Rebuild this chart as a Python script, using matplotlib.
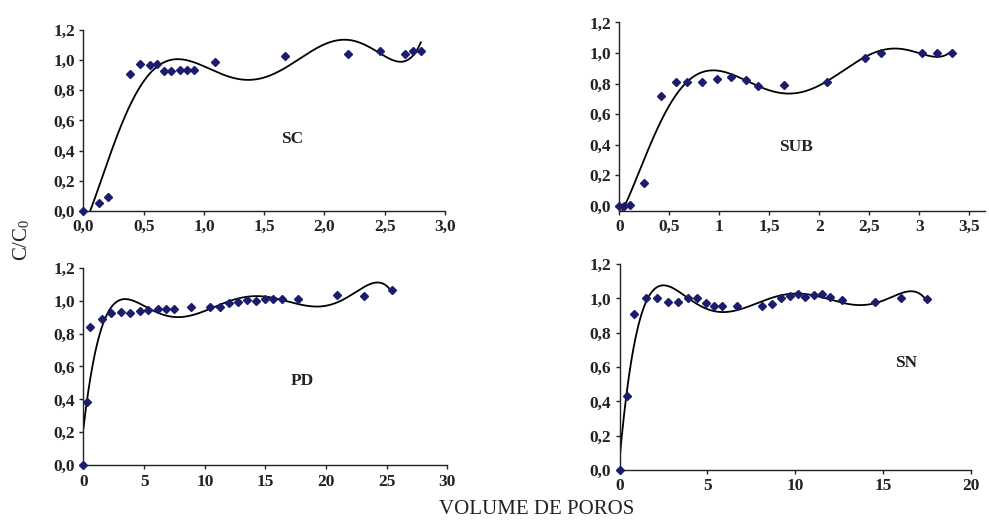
import numpy as np
import matplotlib.pyplot as plt

plt.rcParams['font.family'] = ['Liberation Serif', 'DejaVu Serif']
plt.rcParams['mathtext.fontset'] = 'stix'

# SC
sc_x = [0.0, 0.126, 0.20, 0.383, 0.466, 0.549, 0.612, 0.665, 0.726, 0.80, 0.858, 0.916,
        1.093, 1.673, 2.199, 2.464, 2.672, 2.735, 2.80]
sc_y = [0.0, 0.05, 0.095, 0.909, 0.973, 0.969, 0.973, 0.927, 0.929, 0.938, 0.938, 0.938,
        0.99, 1.028, 1.04, 1.064, 1.04, 1.064, 1.064]

# SUB
sub_x = [0.0, 0.05, 0.107, 0.25, 0.417, 0.564, 0.674, 0.83, 0.974, 1.12, 1.264, 1.384,
         1.65, 2.074, 2.454, 2.614, 3.024, 3.177, 3.324]
sub_y = [0.0, 0.0, 0.007, 0.152, 0.721, 0.808, 0.808, 0.808, 0.832, 0.845, 0.826, 0.784,
         0.791, 0.808, 0.967, 0.998, 0.998, 0.998, 0.998]

# PD
pd_x = [0.0, 0.31, 0.54, 1.50, 2.27, 3.09, 3.83, 4.65, 5.34, 6.11, 6.8, 7.48, 8.86,
        10.42, 11.24, 12.01, 12.7, 13.5, 14.2, 14.95, 15.64, 16.33, 17.7, 20.86, 23.13, 25.47]
pd_y = [0.0, 0.387, 0.841, 0.89, 0.924, 0.93, 0.924, 0.938, 0.944, 0.95, 0.95, 0.95, 0.963,
        0.96, 0.96, 0.985, 0.99, 1.005, 1.0, 1.011, 1.011, 1.011, 1.011, 1.036, 1.026, 1.062]

# SN
sn_x = [0.0, 0.43, 0.84, 1.49, 2.15, 2.78, 3.35, 3.88, 4.43, 4.93, 5.40, 5.86, 6.71,
        8.13, 8.70, 9.2, 9.71, 10.18, 10.56, 11.04, 11.51, 11.95, 12.65, 14.55, 16.03, 17.49]
sn_y = [0.0, 0.433, 0.908, 1.005, 1.005, 0.981, 0.981, 1.005, 1.005, 0.972, 0.958, 0.958,
        0.958, 0.958, 0.966, 1.005, 1.015, 1.028, 1.01, 1.02, 1.028, 1.01, 0.991, 0.981,
        1.005, 0.995]

y_ticks = [0.0, 0.2, 0.4, 0.6, 0.8, 1.0, 1.2]
y_labels = ['0,0', '0,2', '0,4', '0,6', '0,8', '1,0', '1,2']

sc_ticks = [0.0, 0.5, 1.0, 1.5, 2.0, 2.5, 3.0]
sc_labels = ['0,0', '0,5', '1,0', '1,5', '2,0', '2,5', '3,0']
sub_ticks = [0.0, 0.5, 1.0, 1.5, 2.0, 2.5, 3.0, 3.5]
sub_labels = ['0', '0,5', '1', '1,5', '2', '2,5', '3', '3,5']
pd_ticks = [0, 5, 10, 15, 20, 25, 30]
sn_ticks = [0, 5, 10, 15, 20]

panels = [
    # x, y, name, axes rect, xlim, ylim, xticks, xlabels, label pos
    (sc_x, sc_y, 'SC', [0.0844, 0.5996, 0.3655, 0.3435], (0, 3.0), (0, 1.2),
     sc_ticks, sc_labels, (1.73, 0.48)),
    (sub_x, sub_y, 'SUB', [0.6262, 0.5996, 0.3698, 0.3579], (0, 3.657), (-0.033, 1.2),
     sub_ticks, sub_labels, (1.77, 0.384)),
    (pd_x, pd_y, 'PD', [0.0844, 0.1171, 0.3680, 0.3750], (0, 30), (0, 1.2),
     pd_ticks, [str(t) for t in pd_ticks], (18.0, 0.513)),
    (sn_x, sn_y, 'SN', [0.6264, 0.1082, 0.3554, 0.3905], (0, 20), (0, 1.2),
     sn_ticks, [str(t) for t in sn_ticks], (16.3, 0.626)),
]

fig = plt.figure(figsize=(9.89, 5.27), dpi=100)

for x, y, name, rect, xlim, ylim, xt, xl, lpos in panels:
    ax = fig.add_axes(rect)
    x = np.array(x)
    y = np.array(y)
    # 6th order polynomial trendline, as in the original spreadsheet
    coef = np.polyfit(x, y, 6)
    xs = np.linspace(x.min(), x.max(), 400)
    ax.plot(xs, np.polyval(coef, xs), color='black', lw=1.3)
    ax.plot(x, y, 'D', color='#1c1c6e', markersize=4.2, clip_on=False, zorder=3)
    ax.set_xlim(*xlim)
    ax.set_ylim(*ylim)
    ax.set_xticks(xt)
    ax.set_xticklabels(xl)
    ax.set_yticks(y_ticks)
    ax.set_yticklabels(y_labels)
    for s in ['top', 'right']:
        ax.spines[s].set_visible(False)
    for s in ['left', 'bottom']:
        ax.spines[s].set_linewidth(1.0)
        ax.spines[s].set_color('#222222')
    ax.tick_params(direction='out', length=3, width=1, pad=3, labelsize=12.5,
                   colors='#222222')
    for lab in ax.get_xticklabels() + ax.get_yticklabels():
        lab.set_fontweight('bold')
    ax.text(lpos[0], lpos[1], name, fontsize=12.5, fontweight='bold',
            ha='center', va='center', color='#222222')

fig.text(0.0219, 0.5446, r'C/C$_{\mathregular{0}}$', rotation=90, fontsize=15,
         ha='center', va='center', color='#222222')
fig.text(0.543, 0.034, 'VOLUME DE POROS', fontsize=15, ha='center', va='center',
         color='#222222')

fig.savefig('out.png', dpi=100)
